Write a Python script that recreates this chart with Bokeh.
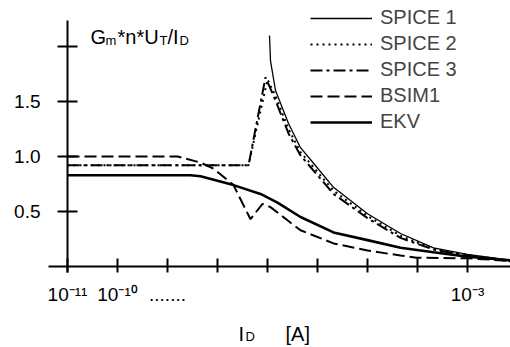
import numpy as np
from bokeh.plotting import figure
from bokeh.models import Range1d, FixedTicker, Label, Legend, LegendItem, PrintfTickFormatter
from bokeh.embed import file_html
from bokeh.resources import INLINE

# ---- data (log10 of drain current, normalized Gm*n*UT/ID) ----
spice1_log_id = [-6.96, -6.94, -6.84, -6.58, -6.34, -6.10, -5.68, -5.00, -4.34, -3.68, -3.00, -2.10]
spice1_val    = [2.10, 1.87, 1.60, 1.30, 1.08, 0.95, 0.72, 0.48, 0.30, 0.17, 0.11, 0.055]

spice2_log_id = [-11.0, -7.38, -7.00, -6.84, -6.58, -6.34, -5.68, -5.00, -4.34, -3.68, -3.00, -2.10]
spice2_val    = [0.92, 0.92, 1.70, 1.55, 1.25, 1.04, 0.69, 0.46, 0.28, 0.16, 0.105, 0.05]

spice3_log_id = [-11.0, -7.38, -7.04, -6.84, -6.58, -6.34, -5.68, -5.00, -4.34, -3.68, -3.00, -2.10]
spice3_val    = [0.92, 0.92, 1.72, 1.51, 1.21, 1.01, 0.66, 0.44, 0.26, 0.155, 0.10, 0.045]

bsim1_log_id = [-11.0, -8.80, -8.34, -8.08, -7.68, -7.34, -7.10, -6.94, -6.60, -6.34, -5.68, -5.00, -4.34, -4.02, -3.00, -2.10]
bsim1_val    = [1.00, 1.00, 0.945, 0.89, 0.74, 0.43, 0.57, 0.54, 0.42, 0.33, 0.21, 0.145, 0.10, 0.08, 0.075, 0.05]

ekv_log_id = [-11.0, -8.54, -8.34, -7.68, -7.14, -6.80, -6.34, -5.68, -5.00, -4.34, -3.68, -3.00, -2.10]
ekv_val    = [0.83, 0.83, 0.82, 0.74, 0.66, 0.58, 0.45, 0.31, 0.24, 0.17, 0.13, 0.09, 0.055]

x_major_ticks = [1e-11, 1e-10, 1e-9, 1e-3]
x_minor_ticks = [1e-8, 1e-7, 1e-6, 1e-5, 1e-4]
x_tick_labels = {1e-11: "10\u207b\u00b9\u00b9", 1e-10: "10\u207b\u00b9\u2070", 1e-9: ".......", 1e-3: "10\u207b\u00b3"}
y_major_ticks = [0.5, 1.0, 1.5]
y_minor_ticks = [2.0]

FONT = "Liberation Sans"

p = figure(width=510, height=347, x_axis_type="log",
           x_range=Range1d(10 ** -12.34, 10 ** -2.14), y_range=Range1d(-0.736, 2.418),
           output_backend="svg", toolbar_location=None, min_border=0)
p.grid.visible = False
p.outline_line_color = None
p.background_fill_color = "white"

xa = p.xaxis[0]
xa.fixed_location = 0
xa.bounds = (10 ** -11.38, 10 ** -2.14)
xa.ticker = FixedTicker(ticks=x_major_ticks, minor_ticks=x_minor_ticks)
xa.major_label_overrides = x_tick_labels
xa.major_tick_in = 8
xa.major_tick_out = 6
xa.minor_tick_in = 8
xa.minor_tick_out = 6
xa.axis_line_width = 2
xa.major_tick_line_width = 2
xa.minor_tick_line_width = 2
xa.major_label_text_font = FONT
xa.major_label_text_font_size = "19px"
xa.major_label_text_color = "black"
xa.major_label_standoff = 11

ya = p.yaxis[0]
ya.fixed_location = 1e-11
ya.bounds = (-0.05, 2.24)
ya.ticker = FixedTicker(ticks=y_major_ticks, minor_ticks=y_minor_ticks)
ya.formatter = PrintfTickFormatter(format="%.1f")
ya.major_tick_in = 10
ya.major_tick_out = 10
ya.minor_tick_in = 10
ya.minor_tick_out = 10
ya.axis_line_width = 2
ya.major_tick_line_width = 2
ya.minor_tick_line_width = 2
ya.major_label_text_font = FONT
ya.major_label_text_font_size = "19px"
ya.major_label_text_color = "black"
ya.major_label_standoff = 17

def ids(logs):
    return np.power(10.0, np.array(logs))

r1 = p.line(ids(spice1_log_id), spice1_val, line_color="black", line_width=1.3)
r2 = p.line(ids(spice2_log_id), spice2_val, line_color="black", line_width=2, line_dash="2 4")
r3 = p.line(ids(spice3_log_id), spice3_val, line_color="black", line_width=2, line_dash="12 4 3 4")
r4 = p.line(ids(bsim1_log_id), bsim1_val, line_color="black", line_width=2, line_dash="12 5")
r5 = p.line(ids(ekv_log_id), ekv_val, line_color="black", line_width=2.6)

legend = Legend(items=[LegendItem(label="SPICE 1", renderers=[r1]),
                       LegendItem(label="SPICE 2", renderers=[r2]),
                       LegendItem(label="SPICE 3", renderers=[r3]),
                       LegendItem(label="BSIM1", renderers=[r4]),
                       LegendItem(label="EKV", renderers=[r5])],
                location=(310, 214), padding=0, margin=0, spacing=3,
                glyph_width=62, glyph_height=22, label_height=22, label_standoff=8,
                label_text_font=FONT, label_text_font_size="20px",
                background_fill_alpha=0, border_line_alpha=0)
p.add_layout(legend)

H = 347
def lab(x, y_top, text, size):
    p.add_layout(Label(x=x, y=H - y_top, x_units="screen", y_units="screen", text=text,
                       text_font=FONT, text_font_size=size, text_baseline="alphabetic",
                       text_align="left", text_color="black"))

# y-axis title: G_m*n*U_T/I_D
lab(90, 36, "G", "20px")
lab(105, 40, "m", "13px")
lab(117, 36, "*n*U", "20px")
lab(159, 40, "T", "13px")
lab(167, 36, "/I", "20px")
lab(179, 40, "D", "13px")
# x-axis title: I_D [A]
lab(238, 333, "I", "20px")
lab(245, 336, "D", "13px")
lab(285, 333, "[A]", "20px")

open("out.html", "w").write(file_html(p, INLINE))
